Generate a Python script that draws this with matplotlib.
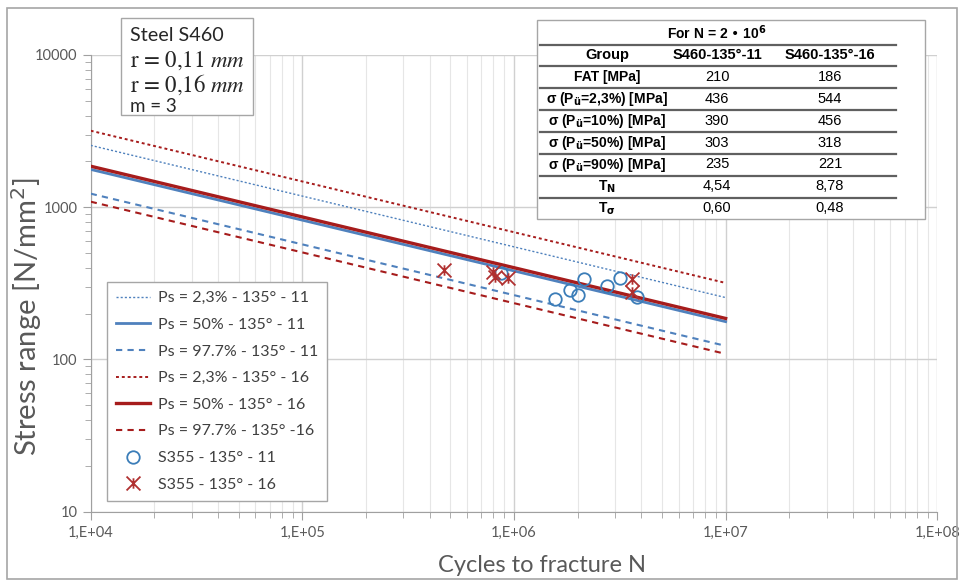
import numpy as np
import matplotlib
matplotlib.use("Agg")
import matplotlib.pyplot as plt
from matplotlib.path import Path
from matplotlib.lines import Line2D
from matplotlib.patches import Rectangle

# ---------------- data ----------------
N_ref = 2e6
m_slope = 3
N_range = [1e4, 1e7]
# stress ranges at N = 2e6 (from table): 2.3 %, 50 %, 97.7 % (=FAT)
s11_23, s11_50, s11_977 = 436, 303, 210
s16_23, s16_50, s16_977 = 544, 318, 186

pts11_N = [1.56e6, 1.84e6, 2.01e6, 2.13e6, 2.74e6, 3.17e6, 3.80e6, 8.65e5]
pts11_S = [248, 286, 265, 338, 304, 341, 256, 370]
pts16_N = [4.67e5, 7.93e5, 8.13e5, 9.32e5, 3.60e6, 3.60e6]
pts16_S = [387, 375, 348, 343, 338, 277]

legend_labels = ["Ps = 2,3% - 135° - 11", "Ps = 50% - 135° - 11", "Ps = 97.7% - 135° - 11",
                 "Ps = 2,3% - 135° - 16", "Ps = 50% - 135° - 16", "Ps = 97.7% - 135° -16",
                 "S355 - 135° - 11", "S355 - 135° - 16"]

table_title = r"For N = 2 • 10$^\mathbf{6}$"
table_cols = ["Group", "S460-135°-11", "S460-135°-16"]
table_rows = ["FAT [MPa]", r"σ (P$_\mathbf{ü}$=2,3%) [MPa]", r"σ (P$_\mathbf{ü}$=10%) [MPa]",
              r"σ (P$_\mathbf{ü}$=50%) [MPa]", r"σ (P$_\mathbf{ü}$=90%) [MPa]",
              r"T$_\mathbf{N}$", r"T$_\mathbf{σ}$"]
table_c1 = ["210", "436", "390", "303", "235", "4,54", "0,60"]
table_c2 = ["186", "544", "456", "318", "221", "8,78", "0,48"]

# ---------------- figure ----------------
W, H = 963, 586
fig = plt.figure(figsize=(W / 100, H / 100), dpi=100)
fig.patch.set_facecolor("white")

def fx(px):
    return px / W

def fy(py):
    return 1 - py / H

ax_l, ax_r, ax_t, ax_b = 90.7, 937.3, 55, 511.7
ax = fig.add_axes([fx(ax_l), fy(ax_b), fx(ax_r) - fx(ax_l), fy(ax_t) - fy(ax_b)])
ax.set_xscale("log")
ax.set_yscale("log")
ax.set_xlim(1e4, 1e8)
ax.set_ylim(10, 10000)

blue = "#4F81BD"
red = "#A61C1C"
mblue = "#3B7DB8"
mred = "#B03030"

Nl = np.array(N_range)
def sn(s):
    return s * (Nl / N_ref) ** (-1.0 / m_slope)

ax.plot(Nl, sn(s11_23), color=blue, lw=1.0, ls=(0, (1.5, 1.5)), label=legend_labels[0], zorder=4)
ax.plot(Nl, sn(s11_50), color=blue, lw=2.0, ls="-", label=legend_labels[1], zorder=4)
ax.plot(Nl, sn(s11_977), color=blue, lw=1.5, ls=(0, (3, 2.5)), label=legend_labels[2], zorder=4)
ax.plot(Nl, sn(s16_23), color=red, lw=1.4, ls=(0, (1.5, 1.5)), label=legend_labels[3], zorder=4)
ax.plot(Nl, sn(s16_50), color=red, lw=2.4, ls="-", label=legend_labels[4], zorder=4)
ax.plot(Nl, sn(s16_977), color=red, lw=1.5, ls=(0, (3, 2.5)), label=legend_labels[5], zorder=4)

star = Path([(-1, -1), (1, 1), (-1, 1), (1, -1), (0, -0.75), (0, 0.75)],
            [Path.MOVETO, Path.LINETO, Path.MOVETO, Path.LINETO, Path.MOVETO, Path.LINETO])
ax.plot(pts11_N, pts11_S, ls="none", marker="o", ms=9, mfc="none", mec=mblue, mew=1.3,
        label=legend_labels[6], zorder=5)
ax.plot(pts16_N, pts16_S, ls="none", marker=star, ms=10, mfc="none", mec=mred, mew=1.3,
        label=legend_labels[7], zorder=5)

# grid and axes styling
ax.grid(which="major", axis="both", color="#D0D0D0", lw=1.0, zorder=0)
ax.grid(which="minor", axis="x", color="#E6E6E6", lw=0.8, zorder=0)
ax.grid(which="minor", axis="y", visible=False)
for s in ["top", "right"]:
    ax.spines[s].set_visible(False)
for s in ["left", "bottom"]:
    ax.spines[s].set_color("#A0A0A0")
ax.tick_params(which="major", length=6, color="#A0A0A0", direction="out", labelcolor="#595959",
               labelsize=10.5)
ax.tick_params(which="minor", length=4, color="#A0A0A0", direction="out")
ax.tick_params(axis="x", pad=4)
ax.set_xticks([1e4, 1e5, 1e6, 1e7, 1e8])
ax.set_xticklabels(["1,E+04", "1,E+05", "1,E+06", "1,E+07", "1,E+08"], fontfamily="Lato")
ax.set_yticks([10, 100, 1000, 10000])
ax.set_yticklabels(["10", "100", "1000", "10000"], fontfamily="Lato")

fig.text(fx(27), fy(317), "Stress range [N/mm$^2$]", fontsize=21, color="#595959",
         fontfamily="Lato", rotation=90, ha="center", va="center")
fig.text(fx(542), fy(566), "Cycles to fracture N", fontsize=17, color="#595959",
         fontfamily="Lato", ha="center", va="center")

leg = ax.legend(loc="upper left", bbox_to_anchor=((107.3 - ax_l) / (ax_r - ax_l), 1 - (282.3 - ax_t) / (ax_b - ax_t)),
                frameon=True, fancybox=False, edgecolor="#A6A6A6", framealpha=1,
                prop={"family": "Lato", "size": 11.5}, labelcolor="#404040",
                handlelength=2.1, handletextpad=0.55, labelspacing=0.78, borderpad=0.55,
                borderaxespad=0)
leg.get_frame().set_linewidth(1.0)
leg.set_zorder(10)

# ---------------- text box ----------------
fig.patches.append(Rectangle((fx(120.7), fy(115)), fx(252.7) - fx(120.7), fy(18) - fy(115),
                             transform=fig.transFigure, facecolor="white", edgecolor="#A6A6A6",
                             lw=1.0, zorder=20))
tx = fx(130)
fig.text(tx, fy(35.5), "Steel S460", fontsize=14.2, fontfamily="Lato", color="#262626",
         va="center", zorder=21)
fig.text(tx, fy(60.5), r"r = 0,11 $mm$", fontsize=16.5, fontfamily="STIXGeneral",
         math_fontfamily="stix", color="#262626", va="center", zorder=21)
fig.text(tx, fy(85), r"r = 0,16 $mm$", fontsize=16.5, fontfamily="STIXGeneral",
         math_fontfamily="stix", color="#262626", va="center", zorder=21)
fig.text(tx, fy(106), "m = 3", fontsize=13.5, fontfamily="Lato", color="#262626",
         va="center", zorder=21)

# ---------------- table ----------------
fig.patches.append(Rectangle((fx(537), fy(219)), fx(925) - fx(537), fy(20) - fy(219),
                             transform=fig.transFigure, facecolor="white", edgecolor="#A6A6A6",
                             lw=1.0, zorder=20))
col_x = [607, 717, 830]
tfs = 10
fig.text(fx(717), fy(33), table_title, fontsize=tfs, fontweight="bold", fontfamily="Liberation Sans",
         math_fontfamily="dejavusans", ha="center", va="center", zorder=21)
row_y0 = 55
row_h = 21.9
for j, c in enumerate(table_cols):
    fig.text(fx(col_x[j]), fy(row_y0), c, fontsize=tfs + 0.5, fontweight="bold",
             fontfamily="Liberation Sans", ha="center", va="center", zorder=21)
for i, (lab, v1, v2) in enumerate(zip(table_rows, table_c1, table_c2)):
    yy = row_y0 + (i + 1) * row_h
    fig.text(fx(col_x[0]), fy(yy), lab, fontsize=tfs, fontweight="bold", fontfamily="Liberation Sans",
             math_fontfamily="dejavusans", ha="center", va="center", zorder=21)
    fig.text(fx(col_x[1]), fy(yy), v1, fontsize=tfs + 0.5, fontfamily="Liberation Sans",
             ha="center", va="center", zorder=21)
    fig.text(fx(col_x[2]), fy(yy), v2, fontsize=tfs + 0.5, fontfamily="Liberation Sans",
             ha="center", va="center", zorder=21)
for k in range(8):
    ly = 44.5 + k * row_h
    fig.add_artist(Line2D([fx(540), fx(896)], [fy(ly), fy(ly)], transform=fig.transFigure,
                          color="#606060", lw=1.6, zorder=21))

# outer border
fig.patches.append(Rectangle((fx(7), fy(579)), fx(957) - fx(7), fy(8) - fy(579),
                             transform=fig.transFigure, facecolor="none", edgecolor="#A6A6A6",
                             lw=1.2, zorder=30))

fig.savefig("out.png", dpi=100)
